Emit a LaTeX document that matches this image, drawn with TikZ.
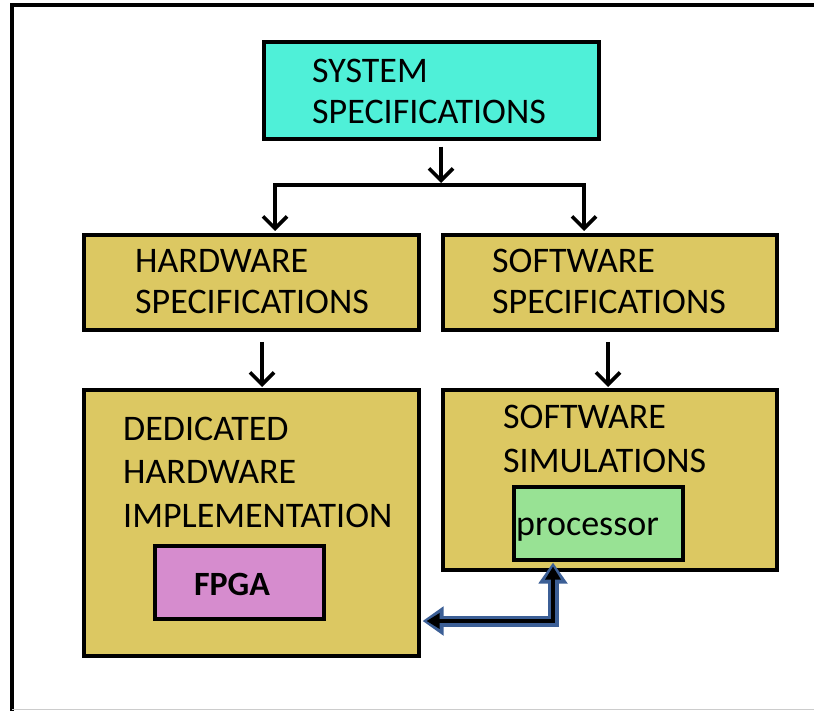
\documentclass[tikz,border=0pt]{standalone}
\usepackage{fontspec}
\setmainfont{Carlito}
\usetikzlibrary{arrows.meta}

\definecolor{syscyan}{RGB}{79,240,216}
\definecolor{boxgold}{RGB}{220,200,98}
\definecolor{fpgapink}{RGB}{214,140,206}
\definecolor{procgreen}{RGB}{152,226,148}
\definecolor{linkblue}{RGB}{60,95,150}

\tikzset{
  blockbox/.style={draw=black, line width=3.6pt, rectangle, inner sep=0pt, anchor=north west},
  blocktext/.style={inner sep=0pt, anchor=base west, font=\fontsize{36}{42}\selectfont},
  flowarrow/.style={draw=black, line width=3.6pt, -{Straight Barb[length=12pt,width=24pt]}},
  flowline/.style={draw=black, line width=3.6pt},
  linkouter/.style={draw=linkblue, line width=11pt,
    {Triangle[length=21pt,width=28pt]}-{Triangle[length=21pt,width=28pt]}},
  linkinner/.style={draw=black, line width=4.5pt,
    {Triangle[length=13pt,width=15pt]}-{Triangle[length=13pt,width=15pt]}},
}

\begin{document}
\begin{tikzpicture}[x=1pt, y=-1pt]
\useasboundingbox (0,0) rectangle (814,711);

% outer frame
\draw[line width=3.6pt] (12,712) -- (12,5) -- (816,5);
\draw[black!20, line width=1pt] (12,709.5) -- (814,709.5);

% blocks
\node[blockbox, fill=syscyan, minimum width=335pt, minimum height=97pt] (sys) at (262,40) {};
\node[blockbox, fill=boxgold, minimum width=335pt, minimum height=95pt] (hw) at (82,233) {};
\node[blockbox, fill=boxgold, minimum width=334pt, minimum height=95pt] (sw) at (441,233) {};
\node[blockbox, fill=boxgold, minimum width=335pt, minimum height=266pt] (ded) at (82,388) {};
\node[blockbox, fill=boxgold, minimum width=334pt, minimum height=180pt] (sim) at (441,388) {};
\node[blockbox, fill=fpgapink, minimum width=169pt, minimum height=73pt] (fpga) at (153,544) {};
\node[blockbox, fill=procgreen, minimum width=169pt, minimum height=73pt] (proc) at (512,485) {};

% labels
\node[blocktext] (sysA) at (312,83) {SYSTEM};
\node[blocktext] (sysB) at (312,124) {SPECIFICATIONS};
\node[blocktext] (hwA) at (135,273) {HARDWARE};
\node[blocktext] (hwB) at (135,314) {SPECIFICATIONS};
\node[blocktext] (swA) at (492,273) {SOFTWARE};
\node[blocktext] (swB) at (492,314) {SPECIFICATIONS};
\node[blocktext] (dedA) at (123,440) {DEDICATED};
\node[blocktext] (dedB) at (123,483) {HARDWARE};
\node[blocktext] (dedC) at (123,527) {IMPLEMENTATION};
\node[blocktext] (simA) at (503,428) {SOFTWARE};
\node[blocktext] (simB) at (503,472) {SIMULATIONS};
\node[blocktext] (procT) at (516,535) {processor};
\node[inner sep=0pt, anchor=base, font=\fontsize{34}{40}\selectfont\bfseries] (fpgaT) at (232,595) {FPGA};

% split below the system block
\coordinate (split) at (441,185);
\coordinate (hwin) at (275,185);
\coordinate (swin) at (584,185);
\draw[flowarrow] ([yshift=-6pt]split |- sys.south) -- ([yshift=2pt]split);
\draw[flowline] ([xshift=-1.8pt]hwin) -- ([xshift=1.8pt]swin);
\draw[flowarrow, shorten >=2pt] (hwin) -- (hwin |- hw.north);
\draw[flowarrow, shorten >=2pt] (swin) -- (swin |- sw.north);

% specifications to implementations
\coordinate (hwdown) at (262,342);
\coordinate (swdown) at (608,342);
\draw[flowarrow, shorten >=1pt] (hwdown) -- (hwdown |- ded.north);
\draw[flowarrow, shorten >=1pt] (swdown) -- (swdown |- sim.north);

% processor <-> dedicated hardware link
\coordinate (bend) at (553,621);
\draw[linkouter, shorten <=2pt, shorten >=1pt] (ded.east |- bend) -- (bend) -- (bend |- proc.south);
\draw[linkinner, shorten <=6pt, shorten >=5pt] (ded.east |- bend) -- (bend) -- (bend |- proc.south);
\end{tikzpicture}
\end{document}
